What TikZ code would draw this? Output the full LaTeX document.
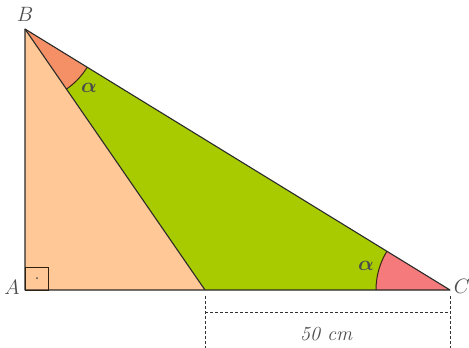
\documentclass[tikz,border=0pt]{standalone}
\usepackage{amsmath,bm}
\usetikzlibrary{calc}
\definecolor{lightor}{HTML}{FFC896}
\definecolor{grn}{HTML}{A8CB00}
\definecolor{salm}{HTML}{F59066}
\definecolor{pinkk}{HTML}{F57A7C}
\definecolor{edge}{HTML}{2A2A2A}
\tikzset{
  lbl/.style={font=\fontsize{20}{22}\selectfont\itshape, text=black!70},
  dim/.style={densely dashed, line width=0.8pt, draw=black!80},
  edgeline/.style={line width=1.1pt, draw=edge, line join=round}
}
\begin{document}
\begin{tikzpicture}[x=1pt,y=-1pt]
\useasboundingbox (0,0) rectangle (469,348);
\coordinate (B) at (25,29);
\coordinate (A) at (25,290);
\coordinate (C) at (450,290);
\coordinate (D) at (205,290);
\fill[lightor] (A)--(B)--(D)--cycle;
\fill[grn] (B)--(C)--(D)--cycle;
\begin{scope}
\clip (B)--(C)--(D)--cycle;
\fill[salm] (B) circle (73);
\draw[line width=1pt, draw=black!70!brown] (B) circle (73);
\end{scope}
\begin{scope}
\clip (B)--(C)--(D)--cycle;
\fill[pinkk] (C) circle (74);
\draw[line width=1pt, draw=black!70!brown] (C) circle (74);
\end{scope}
\draw[edgeline] (A)--(B)--(C)--cycle;
\draw[edgeline] (B)--(D);
\draw[line width=1pt, draw=black!75!brown] (25,267) rectangle (48,290);
\fill[black!70] (37,278) circle (1);
\node[lbl] (lb) at (25,14) {$B$};
\node[lbl] (la) at (12,287) {$A$};
\node[lbl] (lc) at (462,286) {$C$};
\node[lbl] (al1) at (89,88) {$\bm{\alpha}$};
\node[lbl] (al2) at (366,266) {$\bm{\alpha}$};
\coordinate (d1) at (205,296);
\coordinate (d2) at (205,348);
\coordinate (c1) at (450,296);
\coordinate (c2) at (450,348);
\coordinate (h1) at (205,312);
\coordinate (h2) at (450,312);
\draw[dim] (d1)--(d2);
\draw[dim] (c1)--(c2);
\draw[dim] (h1)--(h2);
\node[lbl] (len) at (326,334) {50 cm};
\end{tikzpicture}
\end{document}
